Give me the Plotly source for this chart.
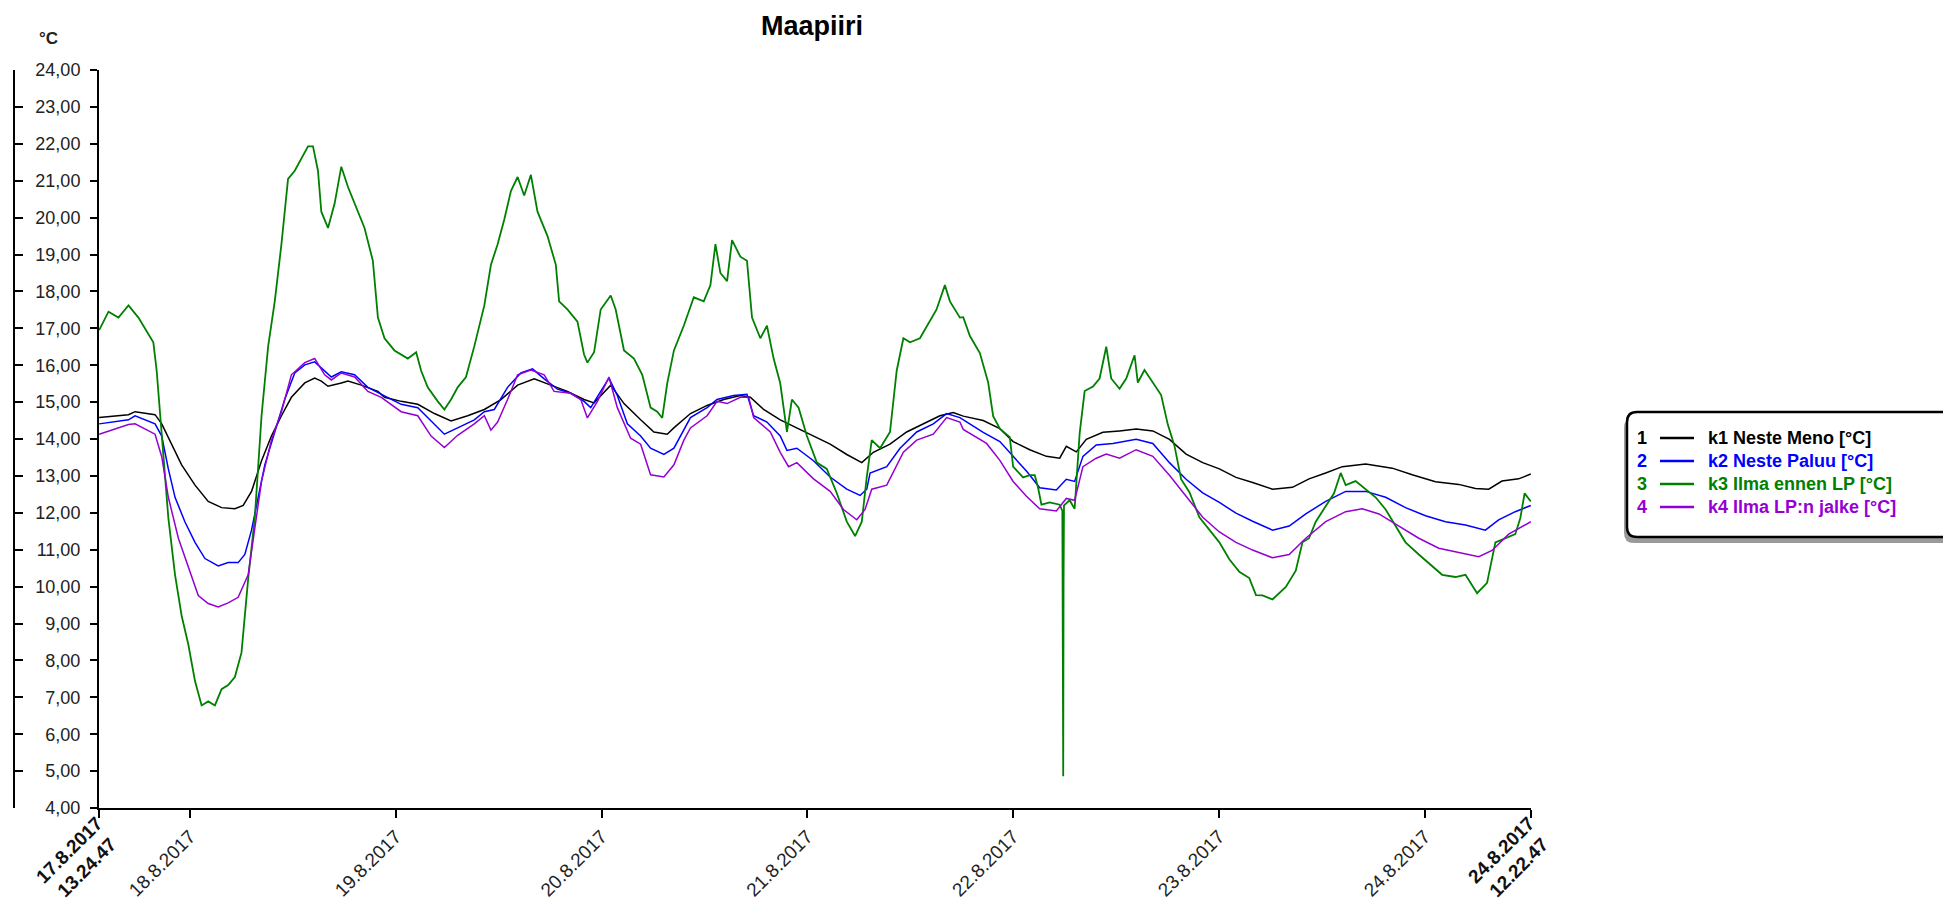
import datetime as dt
import plotly.graph_objects as go

# Logging period
start = dt.datetime(2017, 8, 17, 13, 24, 47)
end = dt.datetime(2017, 8, 24, 12, 22, 47)

# Hours since the start of the log, and readings in °C
k1_hours = [0.0, 3.42, 4.19, 6.52, 7.30, 8.46, 9.62, 11.18, 12.72, 14.28, 15.83, 16.80, 17.77, 18.94, 20.09, 21.26, 22.42, 23.98, 25.14, 25.91, 26.69, 28.24, 29.02, 30.57, 32.51, 33.28, 35.22, 37.16, 39.10, 41.04, 42.98, 44.92, 46.86, 48.80, 50.74, 52.67, 54.61, 56.55, 57.72, 59.66, 61.21, 63.15, 64.70, 66.25, 67.02, 68.96, 70.90, 72.84, 74.78, 75.94, 77.49, 79.43, 81.37, 83.31, 85.25, 87.19, 88.94, 90.29, 92.23, 94.17, 96.11, 98.05, 99.60, 100.77, 103.10, 105.04, 106.59, 108.53, 110.47, 112.02, 112.79, 113.96, 115.12, 117.06, 119.00, 120.94, 122.88, 124.82, 126.76, 128.70, 130.64, 132.58, 134.52, 136.84, 139.16, 141.10, 143.04, 144.98, 147.70, 150.80, 153.13, 155.84, 158.56, 160.50, 162.05, 163.60, 165.54, 166.96]
k1_values = [14.58, 14.66, 14.74, 14.66, 14.41, 13.86, 13.30, 12.75, 12.31, 12.14, 12.11, 12.20, 12.58, 13.41, 14.08, 14.63, 15.13, 15.52, 15.65, 15.57, 15.43, 15.52, 15.57, 15.46, 15.29, 15.13, 15.02, 14.94, 14.69, 14.49, 14.63, 14.80, 15.07, 15.46, 15.63, 15.46, 15.29, 15.07, 14.98, 15.46, 14.96, 14.52, 14.19, 14.13, 14.30, 14.69, 14.91, 15.07, 15.18, 15.13, 14.80, 14.52, 14.30, 14.08, 13.86, 13.58, 13.36, 13.64, 13.86, 14.19, 14.41, 14.63, 14.72, 14.62, 14.50, 14.28, 13.93, 13.71, 13.53, 13.48, 13.80, 13.65, 13.99, 14.18, 14.22, 14.27, 14.22, 13.99, 13.59, 13.36, 13.19, 12.96, 12.82, 12.64, 12.69, 12.92, 13.08, 13.25, 13.32, 13.21, 13.03, 12.84, 12.77, 12.66, 12.64, 12.86, 12.92, 13.05]

k2_hours = [0.0, 3.42, 4.19, 6.52, 7.30, 8.07, 8.85, 10.01, 11.18, 12.34, 13.89, 15.05, 16.21, 16.99, 17.77, 18.54, 19.32, 20.48, 21.64, 22.81, 23.98, 25.14, 26.30, 27.08, 28.24, 29.79, 31.34, 32.90, 35.22, 37.16, 39.10, 40.26, 41.81, 43.75, 44.92, 46.08, 47.63, 49.18, 50.54, 51.90, 53.45, 55.00, 56.55, 57.33, 58.49, 59.46, 60.43, 61.60, 63.15, 64.31, 65.86, 67.03, 68.96, 70.90, 72.06, 74.00, 75.55, 76.33, 77.88, 79.43, 80.21, 81.37, 83.31, 85.25, 87.19, 88.74, 89.52, 89.91, 91.85, 93.40, 95.34, 97.28, 98.83, 100.38, 103.10, 105.04, 106.59, 108.14, 109.69, 111.63, 112.79, 113.76, 114.73, 116.28, 118.22, 120.94, 122.88, 124.82, 126.76, 128.70, 130.64, 132.58, 134.52, 136.84, 138.78, 140.72, 143.04, 145.37, 147.70, 150.03, 152.35, 154.68, 157.01, 159.34, 161.66, 163.21, 165.15, 166.96]
k2_values = [14.41, 14.52, 14.63, 14.41, 14.08, 13.19, 12.42, 11.75, 11.20, 10.76, 10.56, 10.65, 10.65, 10.87, 11.53, 12.42, 13.30, 14.19, 15.07, 15.79, 16.01, 16.09, 15.85, 15.68, 15.82, 15.74, 15.40, 15.21, 14.94, 14.85, 14.41, 14.13, 14.30, 14.52, 14.74, 14.80, 15.40, 15.79, 15.90, 15.63, 15.35, 15.24, 15.02, 14.85, 15.29, 15.65, 15.18, 14.41, 14.08, 13.75, 13.58, 13.75, 14.58, 14.85, 15.07, 15.18, 15.21, 14.63, 14.46, 14.08, 13.69, 13.75, 13.41, 12.97, 12.64, 12.47, 12.64, 13.08, 13.25, 13.75, 14.19, 14.41, 14.69, 14.58, 14.18, 13.93, 13.53, 13.13, 12.68, 12.62, 12.91, 12.85, 13.53, 13.84, 13.88, 13.99, 13.88, 13.36, 12.91, 12.54, 12.28, 11.99, 11.77, 11.53, 11.64, 11.97, 12.31, 12.58, 12.58, 12.42, 12.14, 11.92, 11.76, 11.67, 11.53, 11.81, 12.03, 12.20]

k3_hours = [0.0, 1.09, 2.25, 3.42, 4.58, 5.74, 6.32, 6.71, 7.10, 7.49, 8.07, 8.85, 9.62, 10.40, 11.18, 11.95, 12.72, 13.50, 14.28, 15.05, 15.83, 16.60, 17.38, 18.15, 18.94, 19.71, 20.48, 21.26, 22.03, 22.81, 23.59, 24.36, 24.94, 25.52, 25.91, 26.69, 27.46, 28.24, 29.02, 30.18, 30.95, 31.92, 32.51, 33.28, 34.44, 36.00, 36.97, 37.55, 38.32, 39.49, 40.26, 41.04, 41.81, 42.78, 43.75, 44.92, 45.69, 46.47, 47.24, 48.02, 48.80, 49.57, 50.35, 51.12, 52.29, 53.26, 53.64, 54.61, 55.78, 56.55, 56.94, 57.72, 58.49, 59.66, 60.24, 61.21, 62.37, 63.34, 64.31, 65.09, 65.67, 66.25, 67.03, 68.18, 69.35, 70.51, 71.29, 71.87, 72.45, 73.23, 73.81, 74.78, 75.55, 76.14, 77.11, 77.88, 78.66, 79.43, 80.21, 80.79, 81.57, 82.54, 83.70, 84.86, 86.03, 87.19, 88.16, 88.94, 89.52, 90.10, 91.07, 92.23, 93.01, 93.79, 94.56, 95.72, 96.89, 97.66, 98.63, 99.22, 100.38, 100.77, 101.55, 102.71, 103.68, 104.26, 105.04, 106.20, 106.59, 107.75, 108.53, 109.11, 109.50, 109.89, 110.86, 112.02, 112.33, 112.39, 112.43, 112.47, 112.52, 113.18, 113.76, 114.35, 114.93, 115.90, 116.67, 117.45, 118.03, 119.00, 119.78, 120.75, 121.13, 121.91, 122.88, 123.85, 124.63, 125.40, 126.18, 127.15, 128.31, 129.48, 130.64, 131.80, 132.97, 134.13, 134.91, 135.67, 136.84, 138.39, 139.55, 140.33, 141.10, 141.88, 143.04, 144.01, 144.79, 145.37, 146.53, 147.70, 148.86, 150.03, 151.19, 152.35, 153.90, 155.46, 156.62, 158.17, 159.34, 160.70, 161.86, 162.83, 163.99, 165.15, 165.74, 166.24, 166.96]
k3_values = [16.95, 17.45, 17.29, 17.62, 17.29, 16.84, 16.62, 15.85, 14.63, 13.52, 11.86, 10.32, 9.21, 8.43, 7.44, 6.78, 6.89, 6.78, 7.22, 7.33, 7.55, 8.21, 10.21, 11.86, 14.63, 16.51, 17.73, 19.28, 21.05, 21.27, 21.60, 21.93, 21.93, 21.27, 20.16, 19.72, 20.38, 21.38, 20.83, 20.16, 19.72, 18.83, 17.29, 16.73, 16.40, 16.18, 16.35, 15.85, 15.40, 15.02, 14.80, 15.07, 15.40, 15.68, 16.51, 17.62, 18.72, 19.28, 19.94, 20.72, 21.10, 20.60, 21.16, 20.16, 19.50, 18.72, 17.73, 17.51, 17.18, 16.29, 16.07, 16.35, 17.51, 17.89, 17.51, 16.40, 16.18, 15.74, 14.85, 14.74, 14.57, 15.51, 16.40, 17.07, 17.84, 17.73, 18.17, 19.28, 18.50, 18.28, 19.39, 18.94, 18.83, 17.29, 16.73, 17.07, 16.18, 15.51, 14.19, 15.07, 14.85, 14.08, 13.36, 13.19, 12.53, 11.76, 11.37, 11.76, 12.97, 13.97, 13.75, 14.19, 15.85, 16.73, 16.62, 16.73, 17.18, 17.51, 18.17, 17.73, 17.29, 17.30, 16.79, 16.33, 15.53, 14.62, 14.28, 14.05, 13.25, 12.96, 13.02, 13.02, 12.68, 12.22, 12.28, 12.22, 12.05, 7.30, 4.86, 10.06, 12.20, 12.34, 12.11, 14.16, 15.30, 15.42, 15.64, 16.50, 15.64, 15.36, 15.64, 16.27, 15.53, 15.87, 15.53, 15.19, 14.39, 13.82, 12.91, 12.56, 11.88, 11.54, 11.20, 10.74, 10.40, 10.23, 9.77, 9.76, 9.65, 9.99, 10.43, 11.20, 11.31, 11.76, 12.20, 12.53, 13.08, 12.75, 12.86, 12.64, 12.42, 12.09, 11.64, 11.20, 10.87, 10.54, 10.32, 10.26, 10.32, 9.82, 10.10, 11.20, 11.31, 11.42, 11.86, 12.53, 12.31]

k4_hours = [0.0, 3.42, 4.19, 6.52, 7.30, 8.07, 9.24, 10.40, 11.56, 12.72, 13.89, 15.05, 16.21, 17.38, 18.15, 18.94, 20.09, 21.26, 22.42, 23.98, 25.14, 26.30, 27.08, 28.24, 29.79, 31.34, 32.90, 33.28, 35.22, 37.16, 38.71, 40.26, 41.81, 43.75, 44.92, 45.69, 46.47, 47.63, 48.80, 50.35, 51.90, 53.06, 55.00, 56.17, 56.94, 58.11, 59.46, 60.43, 61.98, 63.15, 64.31, 65.86, 67.03, 68.19, 68.96, 70.90, 72.06, 73.23, 74.78, 75.75, 76.33, 78.27, 79.43, 80.40, 81.37, 83.31, 85.25, 86.80, 88.35, 89.32, 90.10, 91.85, 93.79, 95.34, 97.28, 98.83, 100.38, 100.77, 103.49, 105.04, 106.59, 108.14, 109.69, 111.63, 112.79, 113.76, 114.73, 116.28, 117.45, 119.00, 120.94, 122.88, 124.82, 126.76, 128.70, 130.64, 132.58, 134.52, 136.84, 138.78, 140.72, 143.04, 145.37, 147.31, 149.25, 151.58, 153.90, 156.23, 158.56, 160.89, 162.44, 164.38, 166.96]
k4_values = [14.13, 14.39, 14.41, 14.13, 13.52, 12.42, 11.31, 10.54, 9.76, 9.54, 9.45, 9.56, 9.71, 10.32, 11.53, 12.86, 13.97, 14.74, 15.74, 16.07, 16.18, 15.74, 15.60, 15.79, 15.68, 15.29, 15.13, 15.07, 14.74, 14.63, 14.08, 13.77, 14.10, 14.41, 14.63, 14.24, 14.46, 15.07, 15.74, 15.87, 15.74, 15.29, 15.24, 15.07, 14.57, 15.02, 15.68, 14.85, 14.02, 13.86, 13.03, 12.97, 13.30, 13.97, 14.30, 14.63, 15.02, 14.96, 15.13, 15.13, 14.58, 14.19, 13.64, 13.25, 13.36, 12.92, 12.58, 12.09, 11.81, 12.09, 12.64, 12.75, 13.64, 13.97, 14.13, 14.58, 14.46, 14.26, 13.88, 13.42, 12.85, 12.45, 12.11, 12.05, 12.39, 12.34, 13.25, 13.48, 13.59, 13.48, 13.71, 13.53, 13.02, 12.45, 11.88, 11.48, 11.20, 10.99, 10.78, 10.87, 11.31, 11.76, 12.03, 12.11, 11.97, 11.64, 11.31, 11.04, 10.92, 10.81, 10.98, 11.42, 11.76]

series_names = ["k1 Neste Meno [°C]", "k2 Neste Paluu [°C]", "k3 Ilma ennen LP [°C]", "k4 Ilma LP:n jalke [°C]"]
series_colors = ["#000000", "#0000ff", "#008000", "#9400d3"]
series_hours = [k1_hours, k2_hours, k3_hours, k4_hours]
series_values = [k1_values, k2_values, k3_values, k4_values]

day_ticks = [dt.datetime(2017, 8, d) for d in range(18, 25)]
day_labels = [f"{d}.8.2017" for d in range(18, 25)]
start_label = "<b>17.8.2017<br>13.24.47</b>"
end_label = "<b>24.8.2017<br>12.22.47</b>"

W, H = 1943, 902
FONT = "Liberation Sans, Arial, sans-serif"
TICK_SIZE = 19


def px(x):
    return x / W


def py(y):
    return 1 - y / H


def rounded_rect(x0, y0, x1, y1, r):
    pts = [
        f"M{px(x0 + r)},{py(y0)}", f"L{px(x1 - r)},{py(y0)}",
        f"Q{px(x1)},{py(y0)} {px(x1)},{py(y0 + r)}", f"L{px(x1)},{py(y1 - r)}",
        f"Q{px(x1)},{py(y1)} {px(x1 - r)},{py(y1)}", f"L{px(x0 + r)},{py(y1)}",
        f"Q{px(x0)},{py(y1)} {px(x0)},{py(y1 - r)}", f"L{px(x0)},{py(y0 + r)}",
        f"Q{px(x0)},{py(y0)} {px(x0 + r)},{py(y0)}", "Z",
    ]
    return " ".join(pts)


fig = go.Figure()

for name, col, hrs, vals in zip(series_names, series_colors, series_hours, series_values):
    assert len(hrs) == len(vals), (name, len(hrs), len(vals))
    fig.add_trace(go.Scatter(
        x=[start + dt.timedelta(hours=h) for h in hrs], y=vals,
        mode="lines", name=name,
        line=dict(color=col, width=1.8 if col == "#008000" else 1.5),
        showlegend=False,
    ))

# carrier for the outer scale bracket
fig.add_trace(go.Scatter(x=[start], y=[None], yaxis="y2", showlegend=False, hoverinfo="skip"))

x_dom = [px(99), px(1531)]
y_dom = [py(808), py(70)]

fig.update_layout(
    width=W, height=H,
    margin=dict(l=0, r=0, t=0, b=0, autoexpand=False),
    paper_bgcolor="white", plot_bgcolor="white",
    separators=", ",
    font=dict(family=FONT, color="#222"),
    xaxis=dict(
        domain=x_dom, type="date", automargin=False,
        range=[start - dt.timedelta(minutes=1), end + dt.timedelta(minutes=1)],
        tickmode="array",
        tickvals=[start] + day_ticks + [end],
        ticktext=[""] + day_labels + [""],
        tickangle=-45, tickfont=dict(size=TICK_SIZE, family=FONT, color="#222"),
        ticks="outside", ticklen=8, tickwidth=1.5, tickcolor="black",
        showline=True, linewidth=2, linecolor="black",
        showgrid=False, zeroline=False,
    ),
    yaxis=dict(
        domain=y_dom, range=[4, 24], tick0=4, dtick=1, tickformat=".2f",
        automargin=False,
        tickfont=dict(size=18, family=FONT, color="#222"),
        ticks="outside", ticklen=7, tickwidth=1.5, tickcolor="black",
        ticklabelstandoff=6,
        showline=True, linewidth=2, linecolor="black",
        showgrid=False, zeroline=False,
    ),
    yaxis2=dict(
        domain=y_dom, range=[4, 24], tick0=4, dtick=1,
        overlaying="y", anchor="free", position=px(14), side="left",
        automargin=False,
        ticks="inside", ticklen=8, tickwidth=1.5, tickcolor="black",
        showticklabels=False, showline=True, linewidth=2, linecolor="black",
        showgrid=False, zeroline=False,
    ),
)

shapes = [
    dict(type="path", xref="paper", yref="paper", path=rounded_rect(1624, 418, 1975, 543, 10),
         fillcolor="#9a9a9a", line=dict(width=0), layer="above"),
    dict(type="path", xref="paper", yref="paper", path=rounded_rect(1627, 412, 1975, 537, 10),
         fillcolor="white", line=dict(color="black", width=2.5), layer="above"),
]
annotations = [
    dict(text="<b>Maapiiri</b>", x=px(812), y=py(26), xref="paper", yref="paper",
         xanchor="center", yanchor="middle", showarrow=False,
         font=dict(size=27, family=FONT, color="black")),
    dict(text="<b>°C</b>", x=px(48), y=py(39), xref="paper", yref="paper",
         xanchor="center", yanchor="middle", showarrow=False,
         font=dict(size=17, family=FONT, color="#222")),
    # first and last timestamps, two lines, bold
    dict(text=start_label, x=px(99 - 21), y=py(859), xref="paper", yref="paper",
         xanchor="center", yanchor="middle", textangle=-45, showarrow=False,
         font=dict(size=TICK_SIZE, family=FONT, color="#111")),
    dict(text=end_label, x=px(1531 - 21), y=py(859), xref="paper", yref="paper",
         xanchor="center", yanchor="middle", textangle=-45, showarrow=False,
         font=dict(size=TICK_SIZE, family=FONT, color="#111")),
]

rows = [438, 461, 484, 507]
for i, (name, col, row) in enumerate(zip(series_names, series_colors, rows)):
    shapes.append(dict(type="line", xref="paper", yref="paper",
                       x0=px(1660), x1=px(1694), y0=py(row), y1=py(row),
                       line=dict(color=col, width=2.5), layer="above"))
    annotations.append(dict(text=f"<b>{i + 1}</b>", x=px(1642), y=py(row), xref="paper", yref="paper",
                            xanchor="center", yanchor="middle", showarrow=False,
                            font=dict(size=18, family=FONT, color=col)))
    annotations.append(dict(text=f"<b>{name}</b>", x=px(1706), y=py(row), xref="paper", yref="paper",
                            xanchor="left", yanchor="middle", showarrow=False,
                            font=dict(size=18, family=FONT, color=col)))

fig.update_layout(shapes=shapes, annotations=annotations)

fig.write_html("out.html")
